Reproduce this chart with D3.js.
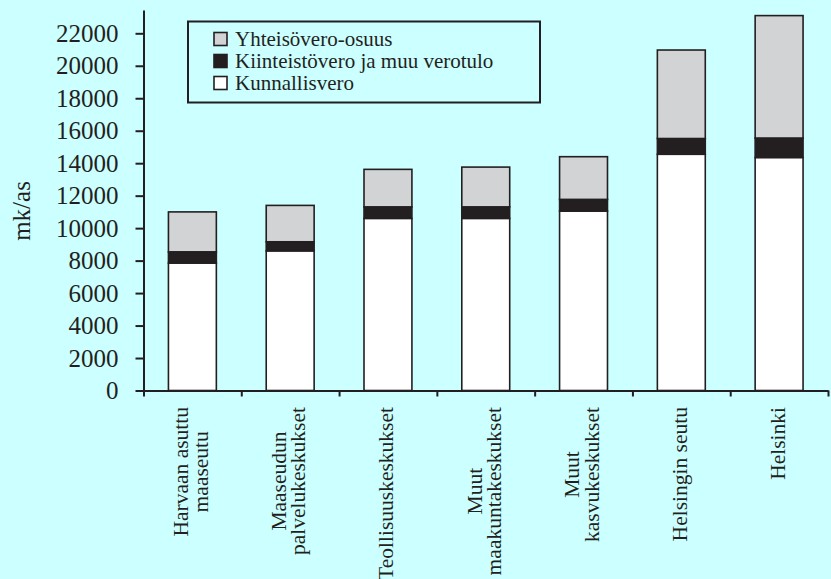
<!DOCTYPE html>
<html>
<head>
<meta charset="utf-8">
<script src="https://cdn.jsdelivr.net/npm/d3@7"></script>
<style>
	body { margin: 0; background: #ccffff; }
	svg { display: block; }
	svg text { font-family: "Liberation Serif", "Times New Roman", serif; }
</style>
</head>
<body>
<svg id="chart" width="831" height="579"></svg>
<script>
var categories = [
	['Harvaan asuttu', 'maaseutu'],
	['Maaseudun', 'palvelukeskukset'],
	['Teollisuuskeskukset'],
	['Muut', 'maakuntakeskukset'],
	['Muut', 'kasvukeskukset'],
	['Helsingin seutu'],
	['Helsinki']
];
var kunnallisvero = [7850, 8600, 10600, 10600, 11050, 14550, 14350];
var kiinteistovero = [690, 560, 710, 710, 720, 970, 1200];
var yhteisovero = [2460, 2240, 2310, 2450, 2630, 5450, 7540];
var seriesNames = ['Yhteisövero-osuus', 'Kiinteistövero ja muu verotulo', 'Kunnallisvero'];
var yTicks = [0, 2000, 4000, 6000, 8000, 10000, 12000, 14000, 16000, 18000, 20000, 22000];

var ink = '#231f20';
var serif = '"Liberation Serif", "Times New Roman", serif';
var fills = { kunnallis: '#ffffff', kiinteisto: '#231f20', yhteiso: '#d1d3d4' };

var svg = d3.select('#chart');

var keys = categories.map(function(c) { return c.join(' '); });
var rows = keys.map(function(k, i) {
	return { key: k, kunnallis: kunnallisvero[i], kiinteisto: kiinteistovero[i], yhteiso: yhteisovero[i] };
});

var x = d3.scaleBand().domain(keys).range([143.5, 828]).paddingInner(0.51).paddingOuter(0.255);
var y = d3.scaleLinear().domain([0, 23435]).range([390.5, 10]);

var stack = d3.stack().keys(['kunnallis', 'kiinteisto', 'yhteiso'])(rows);

// bars
svg.append('g').selectAll('g')
	.data(stack)
	.enter()
	.append('g')
	.attr('fill', function(s) { return fills[s.key]; })
	.selectAll('rect')
	.data(function(s) { return s; })
	.enter()
	.append('rect')
	.attr('x', function(d) { return x(d.data.key); })
	.attr('width', x.bandwidth())
	.attr('y', function(d) { return y(d[1]); })
	.attr('height', function(d) { return y(d[0]) - y(d[1]); })
	.attr('stroke', ink)
	.attr('stroke-width', 1.6);

// y axis
var yAxis = svg.append('g')
	.attr('transform', 'translate(143.5,0)')
	.call(d3.axisLeft(y).tickValues(yTicks).tickSize(8).tickSizeOuter(0).tickPadding(17).tickFormat(d3.format('d')))
	.attr('font-family', serif)
	.attr('font-size', 25);
yAxis.selectAll('path, line').attr('stroke', ink).attr('stroke-width', 2);
yAxis.selectAll('text').attr('fill', ink);

// x axis: ticks at band boundaries
var xb = d3.scaleLinear().domain([0, keys.length]).range([143.5, 828]);
var xAxis = svg.append('g')
	.attr('transform', 'translate(0,390.5)')
	.call(d3.axisBottom(xb).tickValues(d3.range(keys.length + 1)).tickSize(6).tickSizeOuter(0).tickFormat(''));
xAxis.selectAll('path, line').attr('stroke', ink).attr('stroke-width', 2);

// category labels, rotated
categories.forEach(function(lines, i) {
	var cx = x(keys[i]) + x.bandwidth() / 2;
	var g = svg.append('g').attr('transform', 'translate(' + cx + ',0) rotate(-90)');
	var texts = lines.map(function(line, j) {
		return g.append('text')
			.attr('font-family', serif)
			.attr('font-size', 21.5)
			.attr('fill', ink)
			.attr('text-anchor', 'middle')
			.attr('y', (j - (lines.length - 1) / 2) * 19.5 + 5.5)
			.text(line);
	});
	var maxLen = d3.max(texts, function(t) { return t.node().getComputedTextLength(); });
	texts.forEach(function(t) { t.attr('x', -(407 + maxLen / 2)); });
});

// y label
svg.append('text')
	.attr('transform', 'translate(30,211) rotate(-90)')
	.attr('text-anchor', 'middle')
	.attr('font-family', serif)
	.attr('font-size', 25)
	.attr('fill', ink)
	.text('mk/as');

// legend
var legend = svg.append('g');
legend.append('rect')
	.attr('x', 188).attr('y', 21.5)
	.attr('width', 352).attr('height', 81)
	.attr('fill', 'none')
	.attr('stroke', ink)
	.attr('stroke-width', 2);

var legendFills = [fills.yhteiso, fills.kiinteisto, fills.kunnallis];
seriesNames.forEach(function(name, i) {
	var cy = 39 + i * 22;
	legend.append('rect')
		.attr('x', 214).attr('y', cy - 6.5)
		.attr('width', 13).attr('height', 13)
		.attr('fill', legendFills[i])
		.attr('stroke', ink)
		.attr('stroke-width', 1.6);
	legend.append('text')
		.attr('x', 235).attr('y', cy + 7)
		.attr('font-family', serif)
		.attr('font-size', 21)
		.attr('fill', ink)
		.text(name);
});
</script>
</body>
</html>
